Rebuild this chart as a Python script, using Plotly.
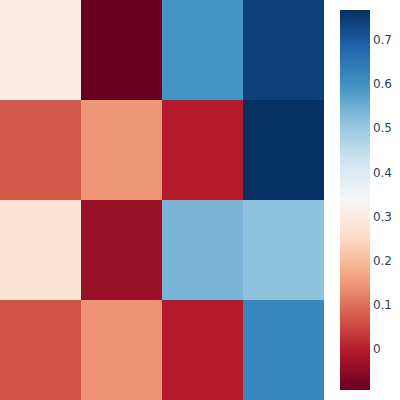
import plotly.graph_objects as go
import plotly.express as px

cols = ["c0", "c1", "c2", "c3"]
rows = ["r0", "r1", "r2", "r3"]  # top to bottom
row0 = [0.303, -0.093, 0.596, 0.742]
row1 = [0.071, 0.148, -0.005, 0.768]
row2 = [0.277, -0.037, 0.535, 0.514]
row3 = [0.064, 0.144, -0.004, 0.620]
z = [row0, row1, row2, row3]

fig = go.Figure(go.Heatmap(
    z=z, x=cols, y=rows,
    colorscale=px.colors.diverging.RdBu,
    colorbar=dict(tick0=0, dtick=0.1, outlinewidth=0),
))
fig.update_layout(
    width=400, height=400,
    margin=dict(l=0, r=0, t=0, b=0),
    template="plotly_white",
    font=dict(family="DejaVu Sans", size=12, color="#2a3f5f"),
    xaxis=dict(visible=False),
    yaxis=dict(visible=False, autorange="reversed"),
)
fig.write_html("out.html", config={"displayModeBar": False},
               post_script="document.body.style.margin='0';")
